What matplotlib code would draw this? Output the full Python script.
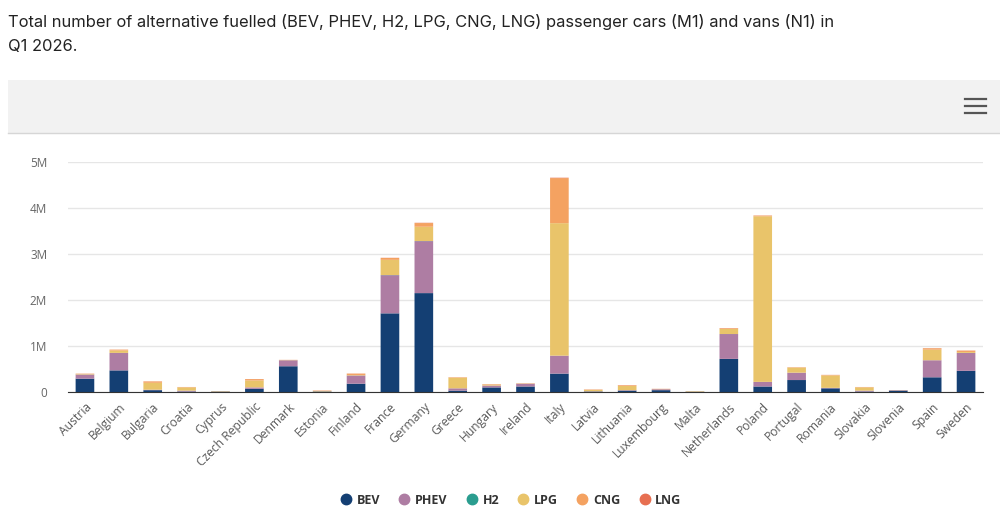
import matplotlib
matplotlib.use("Agg")
import matplotlib.pyplot as plt
from matplotlib.patches import Rectangle
from matplotlib.lines import Line2D
from matplotlib.ticker import FuncFormatter
import numpy as np

countries = ["Austria", "Belgium", "Bulgaria", "Croatia", "Cyprus", "Czech Republic",
             "Denmark", "Estonia", "Finland", "France", "Germany", "Greece", "Hungary",
             "Ireland", "Italy", "Latvia", "Lithuania", "Luxembourg", "Malta",
             "Netherlands", "Poland", "Portugal", "Romania", "Slovakia", "Slovenia",
             "Spain", "Sweden"]

# values in vehicles
bev = [290e3, 470e3, 40e3, 10e3, 8e3, 70e3, 560e3, 10e3, 180e3, 1710e3, 2150e3, 30e3, 100e3,
       120e3, 400e3, 10e3, 30e3, 40e3, 5e3, 720e3, 120e3, 260e3, 80e3, 10e3, 30e3, 320e3, 460e3]
phev = [90e3, 380e3, 10e3, 20e3, 4e3, 30e3, 130e3, 3e3, 180e3, 830e3, 1130e3, 50e3, 40e3,
        60e3, 390e3, 5e3, 10e3, 20e3, 3e3, 540e3, 100e3, 160e3, 10e3, 20e3, 8e3, 370e3, 390e3]
h2 = [500, 300, 0, 0, 0, 100, 200, 0, 100, 3000, 2500, 0, 0, 100, 300, 0, 0, 100, 0,
      800, 0, 100, 0, 0, 0, 300, 200]
lpg = [10e3, 50e3, 150e3, 70e3, 8e3, 150e3, 5e3, 10e3, 10e3, 330e3, 310e3, 230e3, 20e3,
       5e3, 2880e3, 30e3, 90e3, 3e3, 10e3, 110e3, 3600e3, 110e3, 270e3, 70e3, 2e3, 230e3, 20e3]
cng = [8e3, 20e3, 30e3, 8e3, 1e3, 30e3, 3e3, 8e3, 30e3, 40e3, 80e3, 10e3, 10e3, 5e3,
       980e3, 8e3, 15e3, 5e3, 1e3, 15e3, 15e3, 8e3, 10e3, 8e3, 2e3, 30e3, 30e3]
lng = [1000, 2000, 2000, 1000, 0, 2000, 500, 2000, 1500, 4000, 6000, 1000, 2000, 1000,
       8000, 2000, 3000, 1000, 0, 3000, 3000, 1000, 2000, 1000, 500, 3000, 2000]

series = [("BEV", bev, "#143f73"), ("PHEV", phev, "#ae7da3"), ("H2", h2, "#2a9d8f"),
          ("LPG", lpg, "#e9c46a"), ("CNG", cng, "#f4a261"), ("LNG", lng, "#e76f51")]

W, H = 1000, 522
fig = plt.figure(figsize=(W / 100, H / 100), dpi=100)

def fx(px):
    return px / W

def fy(py):
    return 1 - py / H

# title
fig.text(fx(8), fy(22), "Total number of alternative fuelled (BEV, PHEV, H2, LPG, CNG, LNG) passenger cars (M1) and vans (N1) in",
         fontsize=11.9, family="Inter", color="#222222", va="center", ha="left")
fig.text(fx(8), fy(46), "Q1 2026.", fontsize=11.9, family="Inter", color="#222222", va="center", ha="left")

# grey toolbar band
fig.patches.append(Rectangle((fx(8), fy(133)), 1 - fx(8), fy(80) - fy(133),
                             transform=fig.transFigure, facecolor="#f2f2f2", edgecolor="none"))
fig.lines.append(Line2D([fx(8), 1], [fy(133), fy(133)], transform=fig.transFigure,
                        color="#d6d6d6", lw=1))
for yy in (99, 106, 113):
    fig.lines.append(Line2D([fx(965), fx(986)], [fy(yy), fy(yy)], transform=fig.transFigure,
                            color="#555555", lw=1.6))

# chart axes
left, right, top, bottom = 68.0, 983.0, 162, 392
ax = fig.add_axes([fx(left), fy(bottom), fx(right - left), (bottom - top) / H])
x = np.arange(len(countries))
base = np.zeros(len(countries))
for name, vals, col in series:
    vals = np.array(vals, dtype=float)
    shown = np.where(vals > 0, vals, np.nan)   # don't draw empty segments
    bars = ax.bar(x, shown, 0.55, bottom=base, color=col, label=name, linewidth=0, zorder=3)
    for b in bars:
        b.set_snap(False)
    base += vals

ax.set_xlim(-0.5, len(countries) - 0.5)
ax.set_ylim(0, 5e6)
ax.set_yticks(np.arange(0, 5.01e6, 1e6))
ax.yaxis.set_major_formatter(FuncFormatter(lambda v, p: "0" if v == 0 else f"{int(v / 1e6)}M"))
ax.grid(axis="y", color="#e6e6e6", lw=1, zorder=0)
for s in ("top", "right", "left"):
    ax.spines[s].set_visible(False)
ax.spines["bottom"].set_color("#333333")
ax.spines["bottom"].set_zorder(4)
ax.tick_params(axis="y", length=0, pad=15, labelsize=8.5, labelcolor="#666666")
ax.tick_params(axis="x", length=0, pad=6, labelsize=8.7, labelcolor="#5a5a5a")
ax.set_xticks(x)
ax.set_xticklabels(countries, rotation=45, ha="right", rotation_mode="anchor", family="Open Sans")
for lab in ax.get_yticklabels():
    lab.set_family("Open Sans")

handles = [Line2D([], [], marker="o", ls="none", markersize=7.5, color=c) for _, _, c in series]
leg = fig.legend(handles, [n for n, _, _ in series], loc="center", bbox_to_anchor=(0.509, fy(500)),
                 ncol=6, frameon=False, handletextpad=0.1, columnspacing=1.2, handlelength=1.5,
                 prop={"family": "Open Sans", "weight": "bold", "size": 9})
for t in leg.get_texts():
    t.set_color("#333333")

fig.savefig("out.png", dpi=100, facecolor="white")
